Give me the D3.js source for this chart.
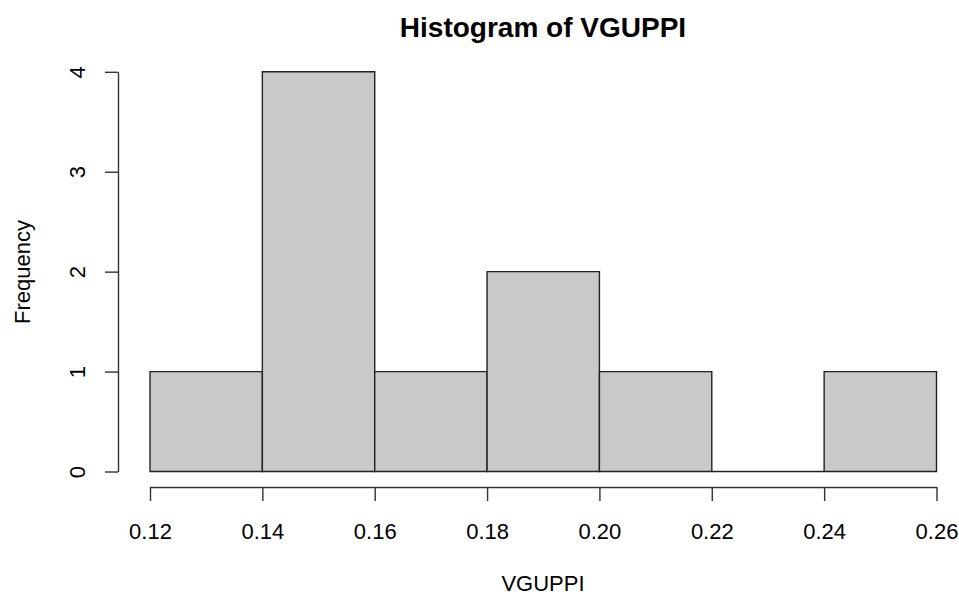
<!DOCTYPE html>
<html><head><meta charset="utf-8">
<script src="https://cdn.jsdelivr.net/npm/d3@7"></script>
<style>body{margin:0;background:#fff}svg{display:block}text{font-family:"Liberation Sans",Arial,sans-serif;fill:#000}</style>
</head><body><div id="c"></div>
<script>
const binEdges = [0.12, 0.14, 0.16, 0.18, 0.20, 0.22, 0.24, 0.26];
const counts = [1, 4, 1, 2, 1, 0, 1];
const xTicks = [0.12, 0.14, 0.16, 0.18, 0.20, 0.22, 0.24, 0.26];
const yTicks = [0, 1, 2, 3, 4];
const title = "Histogram of VGUPPI";
const xLabel = "VGUPPI";
const yLabel = "Frequency";

const W = 959, H = 596;
const svg = d3.select("#c").append("svg").attr("width", W).attr("height", H);
const x = d3.scaleLinear().domain([0.12, 0.26]).range([150, 936.5]);
const y = d3.scaleLinear().domain([0, 4]).range([471.5, 71.8]);

const bins = counts.map((c, i) => ({x0: binEdges[i], x1: binEdges[i + 1], c}));
svg.append("g").selectAll("path").data(bins).join("path")
  .attr("d", d => {
    const p = d3.path();
    p.rect(x(d.x0), y(d.c), x(d.x1) - x(d.x0), y(0) - y(d.c));
    return p.toString();
  })
  .attr("fill", "#c9c9c9").attr("stroke", "#222").attr("stroke-width", 1.4);

const xAxis = svg.append("g").attr("transform", "translate(0,487)")
  .call(d3.axisBottom(x).tickValues(xTicks).tickFormat(d3.format(".2f")).tickSize(14).tickSizeOuter(0).tickPadding(20));
const yAxis = svg.append("g").attr("transform", "translate(118,0)")
  .call(d3.axisLeft(y).tickValues(yTicks).tickFormat(d3.format("d")).tickSize(13).tickSizeOuter(0).tickPadding(20));
[xAxis, yAxis].forEach(g => {
  g.select(".domain").attr("stroke", "#333").attr("stroke-width", 1.4);
  g.selectAll(".tick line").attr("stroke", "#333").attr("stroke-width", 1.4);
  g.selectAll(".tick text").attr("font-size", 22).attr("fill", "#222")
   .style("font-family", '"Liberation Sans",Arial,sans-serif');
});
yAxis.selectAll(".tick text").attr("text-anchor", "middle").attr("dy", null)
  .attr("x", 0).attr("y", 0).attr("transform", "translate(-33,0) rotate(-90)");
xAxis.selectAll(".tick text").attr("dy", null).attr("y", 52);

svg.append("text").attr("x", 543).attr("y", 37).attr("text-anchor", "middle")
  .attr("font-size", 28).attr("font-weight", "bold").text(title);
svg.append("text").attr("x", 543).attr("y", 591).attr("text-anchor", "middle")
  .attr("font-size", 22).attr("fill", "#222").text(xLabel);
svg.append("text").attr("transform", "translate(30,272) rotate(-90)").attr("text-anchor", "middle")
  .attr("font-size", 22).attr("fill", "#222").text(yLabel);
</script></body></html>
